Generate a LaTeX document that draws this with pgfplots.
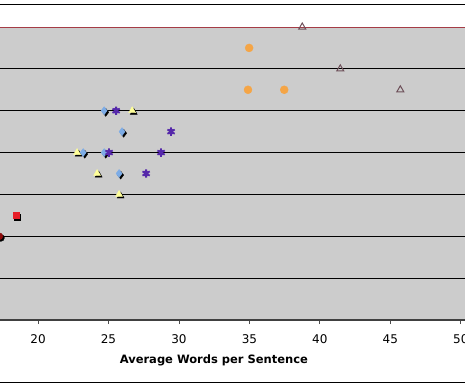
\documentclass[border=0pt]{standalone}
\usepackage{pgfplots}
\pgfplotsset{compat=1.18}
\usepackage{fontspec}
\setmainfont{DejaVu Sans}
\definecolor{bg}{RGB}{204,204,204}
\definecolor{orng}{RGB}{245,165,70}
\definecolor{tri}{RGB}{110,80,90}
\definecolor{topl}{RGB}{165,60,70}
\definecolor{lblue}{RGB}{125,172,230}
\definecolor{purp}{RGB}{85,40,170}
\definecolor{ylw}{RGB}{255,255,153}
\definecolor{rred}{RGB}{230,30,40}
\definecolor{dred}{RGB}{140,10,10}
\begin{document}
\begin{tikzpicture}
\begin{axis}[name=ax,
  scale only axis, width=465pt, height=293pt,
  xmin=17.3, xmax=50.3, ymin=0, ymax=7,
  axis background/.style={fill=bg},
  axis line style={draw=none},
  xtick={20,25,30,35,40,45,50},
  xtick pos=bottom, tick align=outside,
  major tick length=4pt,
  xtick style={draw=black!70, line width=0.8pt},
  ytick={1,2,3,4,5,6}, yticklabels={}, ytick style={draw=none},
  ymajorgrids, major grid style={black, line width=1.2pt},
  /pgf/number format/assume math mode=true,
  xticklabel style={font=\fontsize{12}{14}\selectfont, anchor=center, yshift=-15pt},
  xlabel={Average Words per Sentence},
  xlabel style={at={(rel axis cs:0.46,0)}, anchor=center, yshift=-40pt, font=\bfseries\fontsize{11.5}{13}\selectfont},
  clip=false,
]
\draw[black!75, line width=1.6pt] (rel axis cs:0,0) -- (rel axis cs:1,0);
\draw[topl, line width=1pt] (rel axis cs:0,1) -- (rel axis cs:1,1);
% orange circles
\addplot[only marks, mark=*, mark size=4pt, color=orng, mark options={draw=orng, fill=orng}] coordinates {(34.98,6.5) (34.9,5.5) (37.47,5.5)};
% open triangles
\addplot[only marks, mark=triangle, mark size=4pt, color=tri, mark options={line width=1pt}] coordinates {(38.75,7) (41.45,6) (45.71,5.5)};
% shadows
\addplot[only marks, mark=diamond*, mark size=4pt, color=black, mark options={xshift=1.6pt, yshift=-1.6pt}] coordinates {(24.69,5) (25.96,4.5) (23.2,4) (24.69,4) (25.75,3.5)};
\addplot[only marks, mark=triangle*, mark size=4pt, color=black, mark options={xshift=1.6pt, yshift=-1.6pt}] coordinates {(26.68,5) (22.77,4) (24.19,3.5) (25.75,3)};
\addplot[only marks, mark=square*, mark size=3pt, color=black, mark options={xshift=1.6pt, yshift=-1.6pt}] coordinates {(18.44,2.5)};
\addplot[only marks, mark=*, mark size=3.5pt, color=black, mark options={xshift=1.6pt, yshift=-1.6pt}] coordinates {(17.25,2)};
% diamonds
\addplot[only marks, mark=diamond*, mark size=4pt, color=lblue] coordinates {(24.69,5) (25.96,4.5) (23.2,4) (24.69,4) (25.75,3.5)};
% asterisks
\addplot[only marks, mark=asterisk, mark size=4.2pt, color=purp, mark options={line width=1.8pt}] coordinates {(25.54,5) (29.44,4.5) (25.04,4) (28.73,4) (27.67,3.5)};
\addplot[only marks, mark=x, mark size=3.2pt, color=purp, mark options={line width=1.4pt}] coordinates {(25.54,5) (29.44,4.5) (25.04,4) (28.73,4) (27.67,3.5)};
% yellow triangles
\addplot[only marks, mark=triangle*, mark size=4pt, color=ylw, mark options={fill=ylw, draw=ylw}] coordinates {(26.68,5) (22.77,4) (24.19,3.5) (25.75,3)};
% red square
\addplot[only marks, mark=square*, mark size=3pt, color=rred] coordinates {(18.44,2.5)};
% dark red circle
\addplot[only marks, mark=*, mark size=3.5pt, color=dred] coordinates {(17.25,2)};
\end{axis}
\draw[black, line width=0.8pt] ([yshift=23pt]ax.north west) -- ([yshift=23pt]ax.north east);
\draw[black, line width=0.8pt] ([yshift=-62pt]ax.south west) -- ([yshift=-62pt]ax.south east);
\pgfresetboundingbox
\useasboundingbox ([yshift=-68pt]ax.south west) rectangle ([yshift=27pt]ax.north east);
\end{tikzpicture}
\end{document}
